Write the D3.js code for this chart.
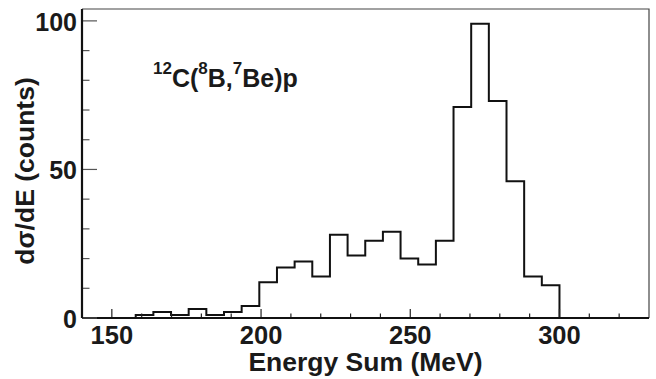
<!DOCTYPE html>
<html lang="en">
<head>
    <meta charset="UTF-8">
    <title>Energy Sum</title>
    <script src="https://d3js.org/d3.v7.min.js"></script>
    <style>
        body { margin: 0; background: #fff; }
        svg { display: block; font-family: "Liberation Sans", Arial, sans-serif; font-weight: bold; }
    </style>
</head>
<body>
    <svg id="chart" width="656" height="379"></svg>

    <script>
        // histogram contents, 24 equal bins between histLo and histHi (MeV)
        const histLo = 158;
        const histHi = 300;
        const counts = [1, 2, 1, 3, 1, 2, 4, 12, 17, 19, 14, 28, 21, 26, 29, 20, 18, 26, 71, 99, 73, 46, 14, 11];

        const xDomain = [140, 330];
        const yDomain = [0, 104];
        const xMajor = [150, 200, 250, 300];
        const xMinor = [160, 170, 180, 190, 210, 220, 230, 240, 260, 270, 280, 290, 310, 320];
        const yMajor = [0, 50, 100];
        const yMinor = [10, 20, 30, 40, 60, 70, 80, 90];

        const svg = d3.select("#chart"),
            margin = { top: 9, right: 7, bottom: 61, left: 82 },
            width = +svg.attr("width") - margin.left - margin.right,
            height = +svg.attr("height") - margin.top - margin.bottom;

        const g = svg.append("g").attr("transform", `translate(${margin.left},${margin.top})`);

        const x = d3.scaleLinear().domain(xDomain).range([0, width]);
        const y = d3.scaleLinear().domain(yDomain).range([height, 0]);

        // frame: thin top/right
        g.append("path")
            .attr("d", `M0,0H${width}V${height}`)
            .attr("fill", "none")
            .attr("stroke", "#444")
            .attr("stroke-width", 1.2);

        // step outline of the histogram
        const binW = (histHi - histLo) / counts.length;
        const pts = [[histLo, 0]];
        counts.forEach((c, i) => {
            pts.push([histLo + i * binW, c]);
            pts.push([histLo + (i + 1) * binW, c]);
        });
        pts.push([histHi, 0]);

        g.append("path")
            .datum(pts)
            .attr("fill", "none")
            .attr("stroke", "#111")
            .attr("stroke-width", 2)
            .attr("d", d3.line().x(d => x(d[0])).y(d => y(d[1])));

        // x axis
        const xAxis = g.append("g").attr("transform", `translate(0,${height})`);
        xAxis.selectAll(".maj").data(xMajor).enter().append("line")
            .attr("x1", d => x(d)).attr("x2", d => x(d))
            .attr("y1", 0).attr("y2", -9)
            .attr("stroke", "#222").attr("stroke-width", 1.2);
        xAxis.selectAll(".min").data(xMinor).enter().append("line")
            .attr("x1", d => x(d)).attr("x2", d => x(d))
            .attr("y1", 0).attr("y2", -4.5)
            .attr("stroke", "#222").attr("stroke-width", 1.2);
        xAxis.selectAll(".lab").data(xMajor).enter().append("text")
            .attr("x", d => x(d))
            .attr("y", 26)
            .attr("text-anchor", "middle")
            .style("font-size", "25.5px")
            .attr("fill", "#1a1a1a")
            .text(d => d);
        xAxis.append("line")
            .attr("x1", 0).attr("x2", width)
            .attr("stroke", "#111").attr("stroke-width", 2.2);

        // y axis
        const yAxis = g.append("g");
        yAxis.selectAll(".maj").data(yMajor).enter().append("line")
            .attr("y1", d => y(d)).attr("y2", d => y(d))
            .attr("x1", 0).attr("x2", 15)
            .attr("stroke", "#555").attr("stroke-width", 1.2);
        yAxis.selectAll(".min").data(yMinor).enter().append("line")
            .attr("y1", d => y(d)).attr("y2", d => y(d))
            .attr("x1", 0).attr("x2", 7.5)
            .attr("stroke", "#555").attr("stroke-width", 1.2);
        yAxis.selectAll(".lab").data(yMajor).enter().append("text")
            .attr("x", -5)
            .attr("y", d => y(d) + 10)
            .attr("text-anchor", "end")
            .style("font-size", "25px")
            .attr("fill", "#1a1a1a")
            .text(d => d);
        yAxis.append("line")
            .attr("y1", 0).attr("y2", height)
            .attr("stroke", "#111").attr("stroke-width", 2.2);

        // axis titles
        svg.append("text")
            .attr("x", 365.5)
            .attr("y", 370.5)
            .attr("text-anchor", "middle")
            .style("font-size", "26.5px")
            .attr("fill", "#1a1a1a")
            .text("Energy Sum (MeV)");

        svg.append("text")
            .attr("transform", "translate(34,171) rotate(-90)")
            .attr("text-anchor", "middle")
            .style("font-size", "26.5px")
            .attr("fill", "#1a1a1a")
            .text("dσ/dE (counts)");

        // reaction label
        const lab = svg.append("text")
            .attr("x", 153)
            .attr("y", 87)
            .style("font-size", "25px")
            .attr("fill", "#1a1a1a");
        const sup = t => lab.append("tspan").attr("dy", -13).style("font-size", "17px").text(t);
        const base = t => lab.append("tspan").attr("dy", 13).text(t);
        sup("12"); base("C(");
        sup("8"); base("B,");
        sup("7"); base("Be)p");
    </script>
</body>
</html>
